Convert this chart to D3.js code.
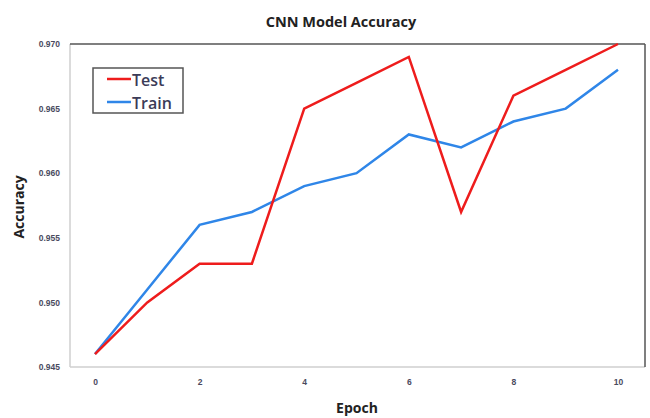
<!DOCTYPE html>
<meta charset="utf-8">
<style>
body { margin: 0; background: #fff; }
svg { display: block; font-family: "Open Sans", sans-serif; }
.tick text { font-size: 8.5px; font-weight: bold; fill: #4a4a5e; }
</style>
<svg width="650" height="418"></svg>
<script src="https://d3js.org/d3.v7.min.js"></script>
<script>

var epochs = [0, 1, 2, 3, 4, 5, 6, 7, 8, 9, 10];
var testAcc = [0.946, 0.950, 0.953, 0.953, 0.965, 0.967, 0.969, 0.957, 0.966, 0.968, 0.970];
var trainAcc = [0.946, 0.951, 0.956, 0.957, 0.959, 0.960, 0.963, 0.962, 0.964, 0.965, 0.968];
var xTicks = [0, 2, 4, 6, 8, 10];
var yTicks = [0.945, 0.950, 0.955, 0.960, 0.965, 0.970];

var svg = d3.select("svg");

// plot box (named to avoid clashing with window.top)
var boxL = 70, boxR = 645, boxT = 44, boxB = 367;

var x = d3.scaleLinear().domain([0, 10]).range([95, 618]);
var y = d3.scaleLinear().domain([0.945, 0.970]).range([boxB, boxT]);

// frame: light left/bottom, dark top/right
svg.append("line").attr("x1", boxL).attr("x2", boxL).attr("y1", boxT).attr("y2", boxB)
    .attr("stroke", "#cfcfcf").attr("stroke-width", 1.5);
svg.append("line").attr("x1", boxL).attr("x2", boxR).attr("y1", boxB).attr("y2", boxB)
    .attr("stroke", "#cfcfcf").attr("stroke-width", 1.5);
svg.append("line").attr("x1", boxL).attr("x2", boxR).attr("y1", boxT).attr("y2", boxT)
    .attr("stroke", "#555").attr("stroke-width", 1.5);
svg.append("line").attr("x1", boxR).attr("x2", boxR).attr("y1", boxT).attr("y2", boxB)
    .attr("stroke", "#555").attr("stroke-width", 1.5);

var yAxis = svg.append("g")
    .attr("transform", "translate(" + boxL + ",0)")
    .call(d3.axisLeft(y).tickValues(yTicks).tickFormat(d3.format(".3f")).tickSize(0).tickPadding(10));
yAxis.select(".domain").remove();

var xAxis = svg.append("g")
    .attr("transform", "translate(0," + boxB + ")")
    .call(d3.axisBottom(x).tickValues(xTicks).tickFormat(d3.format("d")).tickSize(0).tickPadding(12));
xAxis.select(".domain").remove();

var line = d3.line()
    .x(function(d, i) { return x(epochs[i]); })
    .y(function(d) { return y(d); });

svg.append("path").datum(trainAcc)
    .attr("d", line).attr("fill", "none")
    .attr("stroke", "#2f86e8").attr("stroke-width", 2.5);

svg.append("path").datum(testAcc)
    .attr("d", line).attr("fill", "none")
    .attr("stroke", "#ee1c1c").attr("stroke-width", 2.5);

// title and axis labels
svg.append("text").attr("x", 341).attr("y", 27)
    .attr("text-anchor", "middle").attr("font-size", 14.5).attr("font-weight", "bold")
    .attr("fill", "#222").text("CNN Model Accuracy");

svg.append("text").attr("x", 357).attr("y", 413)
    .attr("text-anchor", "middle").attr("font-size", 14).attr("font-weight", "bold")
    .attr("fill", "#222").text("Epoch");

svg.append("text").attr("transform", "translate(24,207) rotate(-90)")
    .attr("text-anchor", "middle").attr("font-size", 14).attr("font-weight", "bold")
    .attr("fill", "#222").text("Accuracy");

// legend
var legend = svg.append("g");
legend.append("rect").attr("x", 93).attr("y", 68).attr("width", 90).attr("height", 45)
    .attr("fill", "#fff").attr("stroke", "#555").attr("stroke-width", 1.5);

var legendItems = [
  { name: "Test", color: "#ee1c1c" },
  { name: "Train", color: "#2f86e8" }
];

legendItems.forEach(function(d, i) {
  var ly = 79 + i * 23;
  legend.append("line").attr("x1", 107).attr("x2", 131).attr("y1", ly).attr("y2", ly)
      .attr("stroke", d.color).attr("stroke-width", 2.5);
  legend.append("text").attr("x", 132).attr("y", ly + 7)
      .attr("font-size", 16).attr("font-weight", 600).attr("fill", "#3c3c58").text(d.name);
});

</script>
